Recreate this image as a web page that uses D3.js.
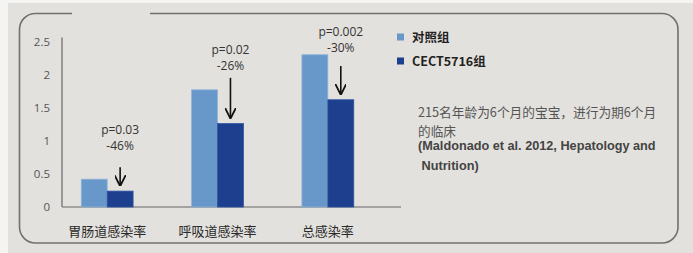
<!DOCTYPE html>
<html>
<head>
<meta charset="utf-8">
<script src="https://cdn.jsdelivr.net/npm/d3@7"></script>
<style>
  body { margin: 0; background: #f4f4f2; }
  text { font-family: "Noto Sans CJK SC", "Noto Sans", sans-serif; }
</style>
</head>
<body>
<script>
// data
const categories = ['胃肠道感染率', '呼吸道感染率', '总感染率']
const seriesNames = ['对照组', 'CECT5716组']
const control = [0.42, 1.77, 2.30]
const cect = [0.24, 1.26, 1.62]
const pValues = ['p=0.03', 'p=0.02', 'p=0.002']
const changes = ['-46%', '-26%', '-30%']
const yTicks = [0, 0.5, 1, 1.5, 2, 2.5]
const noteLines = ['215名年龄为6个月的宝宝，进行为期6个月', '的临床']
const refLines = ['(Maldonado et al. 2012, Hepatology and', ' Nutrition)']

const m = { width: 693, height: 253 }
const colors = ['#6897c9', '#1d3f8e']

const svg = d3.select('body').append('svg')
    .attr('width', m.width)
    .attr('height', m.height)

// paper background
svg.append('rect')
    .attr('x', 8).attr('y', 3)
    .attr('width', m.width - 8).attr('height', m.height - 3)
    .attr('fill', '#e3e1dd')

// rounded frame, top edge has a gap
const fr = { x0: 19.5, y0: 13.5, x1: 678, y1: 243, r: 16 }
const frame = d3.path()
frame.moveTo(72, fr.y0)
frame.lineTo(fr.x0 + fr.r, fr.y0)
frame.arcTo(fr.x0, fr.y0, fr.x0, fr.y0 + fr.r, fr.r)
frame.lineTo(fr.x0, fr.y1 - fr.r)
frame.arcTo(fr.x0, fr.y1, fr.x0 + fr.r, fr.y1, fr.r)
frame.lineTo(fr.x1 - fr.r, fr.y1)
frame.arcTo(fr.x1, fr.y1, fr.x1, fr.y1 - fr.r, fr.r)
frame.lineTo(fr.x1, fr.y0 + fr.r)
frame.arcTo(fr.x1, fr.y0, fr.x1 - fr.r, fr.y0, fr.r)
frame.lineTo(150, fr.y0)
svg.append('path')
    .attr('d', frame.toString())
    .attr('fill', 'none')
    .attr('stroke', '#707070')
    .attr('stroke-width', 1.6)

const yScale = d3.scaleLinear().domain([0, 2.5]).range([207, 41.5])
const xScale = d3.scaleBand().domain(categories)
    .range([52, 383]).paddingInner(0.53).paddingOuter(0.265)
const xSub = d3.scaleBand().domain(seriesNames).range([0, xScale.bandwidth()])

const g = svg.append('g')

// y axis
const yAxis = g.append('g')
    .attr('transform', 'translate(62,0)')
    .call(d3.axisLeft(yScale).tickValues(yTicks).tickSize(0).tickPadding(12)
        .tickFormat(d3.format('')))
yAxis.select('.domain').attr('stroke', '#666').attr('stroke-width', 1.2)
    .attr('d', 'M0,' + (yScale(2.5) - 4) + 'V' + yScale(0))
yAxis.selectAll('text')
    .attr('fill', '#555')
    .style('font-size', '11.5px')
    .style('font-family', '"Open Sans", sans-serif')

// x axis line
g.append('line')
    .attr('x1', 62).attr('x2', 401)
    .attr('y1', yScale(0)).attr('y2', yScale(0))
    .attr('stroke', '#666').attr('stroke-width', 1.2)

const rows = categories.map(function (c, i) {
    return { cat: c, vals: [control[i], cect[i]], p: pValues[i], ch: changes[i], i: i }
})

const groups = g.selectAll('.grp')
    .data(rows)
    .enter()
    .append('g')
    .attr('transform', function (d) { return 'translate(' + xScale(d.cat) + ',0)' })

groups.selectAll('rect')
    .data(function (d) { return d.vals.map(function (v, k) { return { v: v, s: seriesNames[k], k: k } }) })
    .enter()
    .append('rect')
    .attr('x', function (d) { return xSub(d.s) })
    .attr('width', xSub.bandwidth())
    .attr('y', function (d) { return yScale(d.v) })
    .attr('height', function (d) { return yScale(0) - yScale(d.v) })
    .attr('fill', function (d) { return colors[d.k] })
    .attr('stroke', function (d) { return d.k == 0 ? '#8fb3da' : '#2f54a3' })
    .attr('stroke-width', 0.8)

// arrows + labels above the CECT bar
const labelGap = [21, 12, 18]
svg.append('defs').append('marker')
    .attr('id', 'head')
    .attr('viewBox', '0 0 10 10')
    .attr('refX', 9).attr('refY', 5)
    .attr('markerWidth', 7).attr('markerHeight', 7)
    .attr('orient', 'auto')
    .append('path')
    .attr('d', 'M0,0 L10,5 L0,10')
    .attr('fill', 'none').attr('stroke', '#111').attr('stroke-width', 1.6)

groups.each(function (d) {
    const grp = d3.select(this)
    const cx = xSub(seriesNames[1]) + xSub.bandwidth() / 2
    const tail = Math.max(yScale(d.vals[0]) - 12, 66)
    const tip = yScale(d.vals[1]) - 6
    grp.append('line')
        .attr('x1', cx).attr('x2', cx)
        .attr('y1', tail).attr('y2', tip)
        .attr('stroke', '#111').attr('stroke-width', 1.6)
        .attr('marker-end', 'url(#head)')
    const ty = tail - labelGap[d.i]
    grp.append('text')
        .attr('x', cx).attr('y', ty + 4)
        .attr('text-anchor', 'middle')
        .attr('fill', '#333')
        .style('font-size', '12px')
        .style('font-family', '"Open Sans", sans-serif')
        .text(d.ch)
    grp.append('text')
        .attr('x', cx).attr('y', ty - 12)
        .attr('text-anchor', 'middle')
        .attr('fill', '#333')
        .style('font-size', '12px')
        .style('font-family', '"Open Sans", sans-serif')
        .text(d.p)
})

// category labels
g.selectAll('.cat')
    .data(categories)
    .enter()
    .append('text')
    .attr('x', function (d) { return xScale(d) + xScale.bandwidth() / 2 })
    .attr('y', 236)
    .attr('text-anchor', 'middle')
    .attr('fill', '#2a2a2a')
    .style('font-size', '13px')
    .text(function (d) { return d })

// legend
const legend = svg.selectAll('.leg')
    .data(seriesNames)
    .enter()
    .append('g')
    .attr('transform', function (d, i) { return 'translate(397,' + (37 + i * 24) + ')' })
legend.append('rect')
    .attr('x', 0).attr('y', -3.5)
    .attr('width', 7).attr('height', 7)
    .attr('fill', function (d, i) { return colors[i] })
legend.append('text')
    .attr('x', 15).attr('y', 4.5)
    .attr('fill', '#222')
    .style('font-size', '12.5px')
    .style('font-weight', '600')
    .text(function (d) { return d })

// note text
svg.selectAll('.note')
    .data(noteLines)
    .enter()
    .append('text')
    .attr('x', 418)
    .attr('y', function (d, i) { return 117 + i * 19 })
    .attr('fill', '#555')
    .style('font-size', '12.7px')
    .text(function (d) { return d })

svg.selectAll('.ref')
    .data(refLines)
    .enter()
    .append('text')
    .attr('x', 418)
    .attr('y', function (d, i) { return 150 + i * 20 })
    .attr('fill', '#444')
    .style('font-size', '12.7px')
    .style('font-weight', 'bold')
    .style('font-family', '"Liberation Sans", Arial, sans-serif')
    .style('white-space', 'pre')
    .text(function (d) { return d })
</script>
</body>
</html>
